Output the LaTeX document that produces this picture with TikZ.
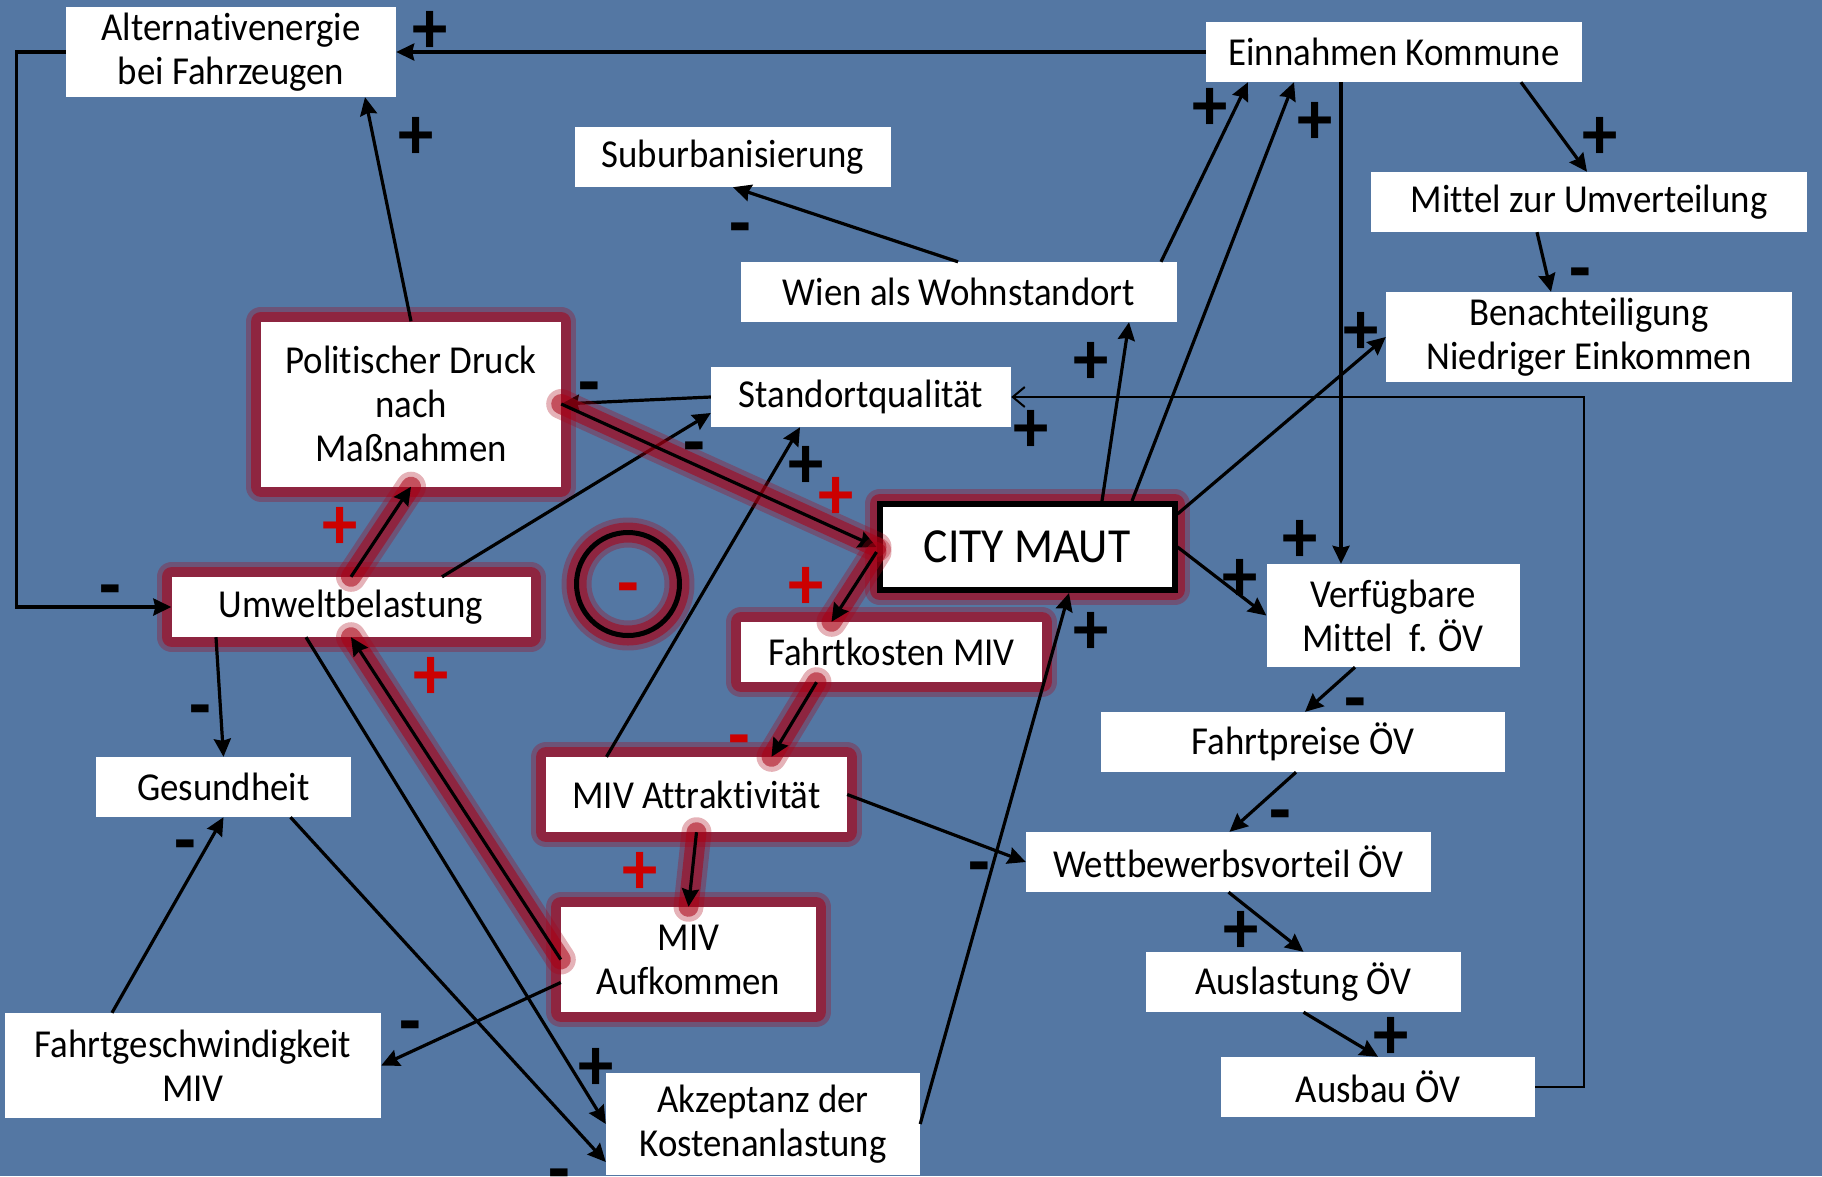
\documentclass[tikz,border=0pt]{standalone}
\usepackage{fontspec}
\setmainfont{Carlito}[FakeStretch=0.93, Ligatures=NoCommon]
\usetikzlibrary{arrows.meta, positioning}

\definecolor{folie}{RGB}{84,119,163}
\definecolor{rot}{RGB}{204,0,0}
\definecolor{glut}{RGB}{170,0,20}

\tikzset{
    x=1pt, y=-1pt, % one unit is one pixel of the slide, y runs downwards
    >={Stealth[length=18pt, width=17pt, inset=2pt]}, % filled arrow heads
    kasten/.style={fill=white, align=center, inner sep=0pt, font=\fontsize{39.6}{44}\selectfont}, % white text boxes
    glow/.style={
        preaction={draw=glut, arrows=-, line width=30pt, opacity=.3, line cap=round, line join=round},
        preaction={draw=glut, arrows=-, line width=20pt, opacity=.55, line cap=round, line join=round}
    }, % red halo of the main loop
    pfeil/.style={->, line width=3.2pt}, % normal connector
    vz/.style={inner sep=0pt, yshift=-3pt, font=\bfseries\fontsize{76}{76}\selectfont}, % + signs
    vzm/.style={vz, yshift=-9pt}, % - signs sit lower
    rotvz/.style={vz, text=rot},
    rotvzm/.style={vzm, text=rot},
}

\begin{document}
\begin{tikzpicture}
    \useasboundingbox (0,0) rectangle (1822,1176);
    \fill[folie] (0,0) rectangle (1822,1176);

    % boxes
    \node[kasten, minimum width=330pt, minimum height=90pt] (alt) at (231,52) {Alternativenergie\\bei Fahrzeugen};
    \node[kasten, minimum width=376pt, minimum height=60pt] (einnahmen) at (1394,52) {Einnahmen Kommune};
    \node[kasten, minimum width=436pt, minimum height=60pt] (umvert) at (1589,202) {Mittel zur Umverteilung};
    \node[kasten, minimum width=406pt, minimum height=90pt] (benacht) at (1589,337) {Benachteiligung\\Niedriger Einkommen};
    \node[kasten, minimum width=316pt, minimum height=60pt] (suburb) at (733,157) {Suburbanisierung};
    \node[kasten, minimum width=436pt, minimum height=60pt] (wien) at (959,292) {Wien als Wohnstandort};
    \node[kasten, minimum width=300pt, minimum height=60pt] (standort) at (861,397) {Standortqualität};
    \node[kasten, glow, minimum width=300pt, minimum height=165pt] (druck) at (411,404) {Politischer Druck\\nach\\Maßnahmen};
    \node[kasten, glow, draw, line width=6pt, minimum width=295pt, minimum height=86pt,
          font=\fontsize{49}{55}\selectfont] (maut) at (1027,547) {CITY MAUT};
    \node[kasten, glow, minimum width=359pt, minimum height=60pt] (umwelt) at (351,607) {Umweltbelastung};
    \node[circle, draw, glow, line width=5pt, minimum size=103pt, inner sep=0pt] (kreis) at (628,584) {};
    \node[rotvzm] (kreisvz) at (kreis.center) {-};
    \node[kasten, glow, minimum width=301pt, minimum height=60pt] (kosten) at (891.5,652) {Fahrtkosten MIV};
    \node[kasten, glow, minimum width=301pt, minimum height=75pt] (attrakt) at (696.5,794.5) {MIV Attraktivität};
    \node[kasten, glow, minimum width=255pt, minimum height=105pt] (aufk) at (688.5,959.5) {MIV\\Aufkommen};
    \node[kasten, minimum width=255pt, minimum height=60pt] (gesund) at (223.5,787) {Gesundheit};
    \node[kasten, minimum width=376pt, minimum height=105pt] (geschw) at (193,1065.5) {Fahrtgeschwindigkeit\\MIV};
    \node[kasten, minimum width=314pt, minimum height=102pt] (akzept) at (763,1124) {Akzeptanz der\\Kostenanlastung};
    \node[kasten, minimum width=253pt, minimum height=103pt] (verfueg) at (1393,615.5) {Verfügbare\\Mittel\ \ f. ÖV};
    \node[kasten, minimum width=404pt, minimum height=60pt] (preise) at (1303,742) {Fahrtpreise ÖV};
    \node[kasten, minimum width=405pt, minimum height=60pt] (wettb) at (1228.5,862) {Wettbewerbsvorteil ÖV};
    \node[kasten, minimum width=315pt, minimum height=60pt] (auslast) at (1303.5,982) {Auslastung ÖV};
    \node[kasten, minimum width=314pt, minimum height=60pt] (ausbau) at (1378,1087) {Ausbau ÖV};

    % connectors
    \draw[pfeil] (einnahmen.west) -- (alt.east);
    \draw[pfeil] (alt.west) -- ++(-49,0) |- (umwelt.west);
    \draw[pfeil] (druck.north) -- ([xshift=134pt]alt.south);
    \draw[pfeil] (standort.west) -- (druck.east);
    \draw[pfeil] ([xshift=91pt]umwelt.north) -- ([yshift=-16pt]standort.west);
    \draw[pfeil] ([xshift=-90pt]attrakt.north) -- ([xshift=-61pt]standort.south);
    \draw[line width=2pt, -{Straight Barb[length=12pt, width=20pt]}] (ausbau.east) -- ++(49,0) |- (standort.east);
    \draw[pfeil] ([xshift=-1pt]wien.north) -- (suburb.south);
    \draw[pfeil] ([xshift=75pt]maut.north) -- ([xshift=170pt]wien.south);
    \draw[pfeil] ([xshift=202pt]wien.north) -- ([xshift=-146pt]einnahmen.south);
    \draw[pfeil] ([xshift=105pt]maut.north) -- ([xshift=-100pt]einnahmen.south);
    \draw[pfeil] ([xshift=127pt]einnahmen.south) -- ([xshift=-2pt]umvert.north);
    \draw[pfeil] ([xshift=-52pt]umvert.south) -- ([xshift=-38pt]benacht.north);
    \draw[pfeil] ([yshift=33pt]maut.east) -- (benacht.west);
    \draw[pfeil] ([xshift=-53pt]einnahmen.south) -- ([xshift=-52pt]verfueg.north);
    \draw[pfeil] (maut.east) -- (verfueg.west);
    \draw[pfeil] ([xshift=-38pt]verfueg.south) -- ([xshift=2pt]preise.north);
    \draw[pfeil] ([xshift=-7pt]preise.south) -- ([xshift=1pt]wettb.north);
    \draw[pfeil] (attrakt.east) -- (wettb.west);
    \draw[pfeil] (wettb.south) -- (auslast.north);
    \draw[pfeil] (auslast.south) -- (ausbau.north);
    \draw[pfeil] (akzept.east) -- ([xshift=42pt]maut.south);
    \draw[pfeil] ([xshift=-135pt]umwelt.south) -- (gesund.north);
    \draw[pfeil] ([xshift=-81pt]geschw.north) -- (gesund.south);
    \draw[pfeil] ([yshift=-23pt]aufk.west) -- (geschw.east);
    \draw[pfeil] ([xshift=-45pt]umwelt.south) -- (akzept.west);
    \draw[pfeil] ([xshift=67pt]gesund.south) -- ([yshift=-38pt]akzept.west);

    % the reinforcing loop
    \draw[pfeil, glow] (umwelt.north) -- (druck.south);
    \draw[pfeil, glow] (druck.east) -- (maut.west);
    \draw[pfeil, glow] ([yshift=-5pt]maut.west) -- ([xshift=-60pt]kosten.north);
    \draw[pfeil, glow] ([xshift=-75pt]kosten.south) -- ([xshift=75pt]attrakt.north);
    \draw[pfeil, glow] (attrakt.south) -- (aufk.north);
    \draw[pfeil, glow] (aufk.west) -- (umwelt.south);

    % signs
    \node[vz] (p1) at (430,29) {+};
    \node[vz] (p2) at (416,135) {+};
    \node[vz] (p3) at (1031,428) {+};
    \node[vz] (p4) at (1091,360) {+};
    \node[vz] (p5) at (1210,106) {+};
    \node[vz] (p6) at (1315,120) {+};
    \node[vz] (p7) at (1600,135) {+};
    \node[vz] (p8) at (1361,330) {+};
    \node[vz] (p9) at (1300,538) {+};
    \node[vz] (p10) at (1240,577) {+};
    \node[vz] (p11) at (1241,929) {+};
    \node[vz] (p12) at (1391,1035) {+};
    \node[vz] (p13) at (1091,630) {+};
    \node[vz] (p14) at (806,464) {+};
    \node[vz] (p15) at (596,1066) {+};
    \node[vzm] (m1) at (110,586) {-};
    \node[vzm] (m2) at (589,383) {-};
    \node[vzm] (m3) at (694,443) {-};
    \node[vzm] (m4) at (1580,269) {-};
    \node[vzm] (m5) at (1355,699) {-};
    \node[vzm] (m6) at (1280,811) {-};
    \node[vzm] (m7) at (979,863) {-};
    \node[vzm] (m8) at (200,706) {-};
    \node[vzm] (m9) at (185,841) {-};
    \node[vzm] (m10) at (410,1022) {-};
    \node[vzm] (m11) at (559,1170) {-};
    \node[vzm] (m12) at (740,224) {-};
    \node[rotvz] (r1) at (340,525) {+};
    \node[rotvz] (r2) at (836,495) {+};
    \node[rotvz] (r3) at (806,585) {+};
    \node[rotvzm] (r4) at (739,736) {-};
    \node[rotvz] (r5) at (640,870) {+};
    \node[rotvz] (r6) at (431,675) {+};
\end{tikzpicture}
\end{document}
